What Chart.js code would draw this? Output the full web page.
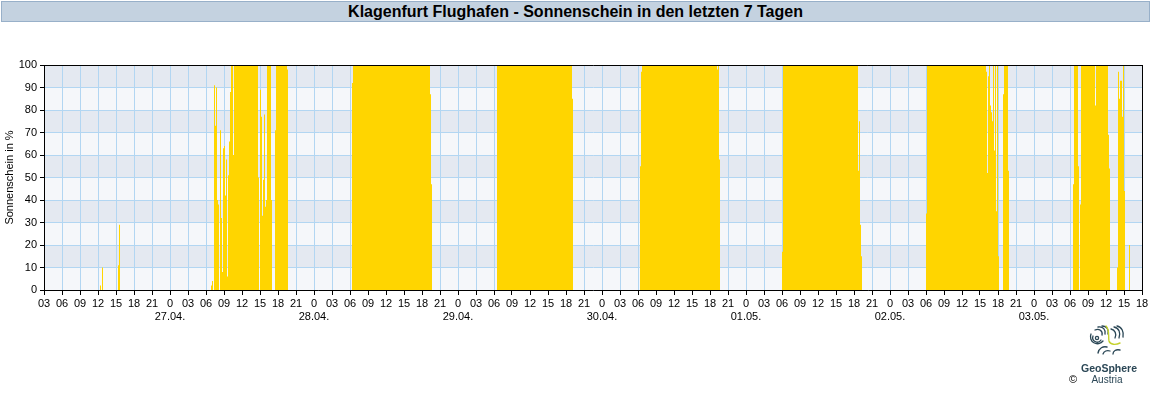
<!DOCTYPE html>
<html><head><meta charset="utf-8">
<script src="https://cdn.jsdelivr.net/npm/chart.js@4/dist/chart.umd.min.js"></script>
<style>
html,body{margin:0;padding:0;background:#fff;}
#wrap{position:relative;width:1152px;height:400px;overflow:hidden;font-family:"Liberation Sans",Arial,sans-serif;}
#title{position:absolute;left:1px;top:1px;width:1147px;height:19px;background:#c4d2e0;border:1px solid #98b0c9;text-align:center;font-weight:bold;font-size:16px;line-height:19px;color:#000;}
canvas{position:absolute;left:0;top:0;}
.lg{position:absolute;color:#2b4756;font-size:10px;}
</style></head>
<body><div id="wrap">
<canvas id="c" width="1152" height="400"></canvas>
<div id="title">Klagenfurt Flughafen - Sonnenschein in den letzten 7 Tagen</div>
<svg style="position:absolute;left:1089px;top:325px" width="36" height="30" viewBox="0 0 36 30">
 <g fill="none" stroke="#2b4756" stroke-width="1.3" stroke-linecap="round">
  <circle cx="8" cy="13" r="1.6"/>
  <path d="M4 11 a4.5 4.5 0 0 0 8 4"/>
  <path d="M2 9 a7 7 0 0 0 12 7"/>
  <path d="M6 5 C10 3 14 6 13 10"/>
  <path d="M9 2 C14 1 17 5 16 9"/>
  <path d="M13 1 C18 1 20 5 19 9"/>
  <path d="M22 4 C26 5 28 9 26 13"/>
  <path d="M25 2 C30 3 32 8 30 13"/>
  <path d="M28 1 C33 2 35 7 34 12"/>
  <path d="M9 28 C10 23 14 21 18 22"/>
  <path d="M14 29 C15 26 18 25 21 26"/>
  <path d="M24 29 C24 26 27 24 31 25"/>
 </g>
 <path d="M17 1 C21 5 19 11 20 16 C21 20 27 20 31 18" fill="none" stroke="#c5d22c" stroke-width="1.4" stroke-linecap="round"/>
</svg>
<div class="lg" style="left:1081px;top:362px;width:52px;text-align:center;font-weight:bold;font-size:10.5px;">GeoSphere</div>
<div class="lg" style="left:1081px;top:374px;width:52px;text-align:center;">Austria</div>
<div class="lg" style="left:1069px;top:373px;color:#000;font-size:11px;">©</div>
</div>
<script>
// Dates (day index 0..7), x axis in hours since 26.04. 00:00
const dates = ["26.04.","27.04.","28.04.","29.04.","30.04.","01.05.","02.05.","03.05."];
// Run-length sunshine values: [start time, % sunshine held until next entry]
const d0426 = [["12:20",2],["12:30",0],["12:40",10],["12:50",0],["15:20",11],["15:30",29],["15:40",0]];
const d0427 = [["06:50",2],["07:00",4],["07:10",0],["07:20",91],["07:30",73],["07:40",90],["07:50",40],["08:00",38],["08:10",0],["08:20",71],["08:30",32],["08:40",8],["08:50",63],["09:00",64],["09:10",42],["09:20",58],["09:30",6],["09:40",51],["09:50",66],["10:00",88],["10:10",100],["10:30",60],["10:40",100],["14:40",50],["14:50",0],["15:00",89],["15:10",77],["15:20",33],["15:30",49],["15:40",78],["15:50",37],["16:00",40],["16:10",100],["16:50",40],["17:00",0],["17:30",71],["17:40",100],["19:30",98],["19:40",0]];
const d0428 = [["06:20",92],["06:30",100],["19:20",87],["19:30",47],["19:40",0]];
const d0429 = [["06:30",100],["19:00",85],["19:10",0]];
const d0430 = [["06:20",55],["06:30",97],["06:40",100],["19:10",98],["19:20",100],["19:30",58],["19:40",0]];
const d0501 = [["06:00",17],["06:10",100],["18:40",53],["18:50",75],["19:00",29],["19:10",15],["19:20",0]];
const d0502 = [["06:00",34],["06:10",100],["16:00",97],["16:10",52],["16:20",95],["16:30",100],["16:40",82],["16:50",79],["17:00",75],["17:10",100],["17:20",62],["17:30",100],["17:40",35],["17:50",100],["18:00",15],["18:10",0],["18:50",87],["19:00",100],["19:40",53],["19:50",0]];
const d0503 = [["06:30",47],["06:40",100],["07:20",55],["07:30",0],["07:40",38],["07:50",100],["10:10",82],["10:20",100],["12:20",69],["12:30",54],["12:40",0],["13:50",10],["14:00",97],["14:10",85],["14:20",93],["14:40",77],["14:50",100],["15:00",44],["15:10",0],["15:50",20],["16:00",0]];
const days = [d0426,d0427,d0428,d0429,d0430,d0501,d0502,d0503];
const xMin = 3, xMax = 186;
const yTicks = [0,10,20,30,40,50,60,70,80,90,100];

const points = [{x:xMin,y:0}];
days.forEach((arr,i)=>arr.forEach(([t,v])=>{
  const [hh,mm] = t.split(":").map(Number);
  points.push({x:i*24+hh+mm/60,y:v});
}));
points.push({x:xMax,y:0});

const bands = {
  id:'bands',
  beforeDraw(chart){
    const {ctx,chartArea:a,scales:{y}} = chart;
    ctx.save();
    for(let i=0;i<yTicks.length-1;i++){
      const t = y.getPixelForValue(yTicks[i+1]), b = y.getPixelForValue(yTicks[i]);
      ctx.fillStyle = (i%2===0)?'#f5f7fa':'#e4e9f1';
      ctx.fillRect(a.left,t,a.right-a.left,b-t);
    }
    ctx.restore();
  },
  afterDatasetsDraw(chart){
    const {ctx,chartArea:a} = chart;
    ctx.save();
    ctx.strokeStyle='#000';ctx.lineWidth=1;
    ctx.beginPath();
    ctx.moveTo(a.left,Math.round(a.top)+0.5);ctx.lineTo(a.right+0.5,Math.round(a.top)+0.5);
    ctx.moveTo(Math.round(a.right)+0.5,a.top);ctx.lineTo(Math.round(a.right)+0.5,a.bottom);
    ctx.stroke();
    ctx.translate(10,(a.top+a.bottom)/2);
    ctx.rotate(-Math.PI/2);
    ctx.fillStyle='#000';ctx.font='11px "Liberation Sans", Arial';
    ctx.textAlign='center';ctx.textBaseline='middle';
    ctx.fillText('Sonnenschein in %',0,0);
    ctx.restore();
  }
};

Chart.defaults.font.family = '"Liberation Sans", Arial, sans-serif';
Chart.defaults.font.size = 11;
Chart.defaults.color = '#000';

new Chart(document.getElementById('c'),{
  type:'line',
  data:{datasets:[{
    data:points,
    stepped:'before',
    fill:'origin',
    backgroundColor:'#ffd500',
    borderColor:'rgba(0,0,0,0)',
    borderWidth:0,
    pointRadius:0,
    tension:0
  }]},
  options:{
    responsive:false,animation:false,
    layout:{padding:{top:65,right:10,left:0,bottom:0}},
    plugins:{legend:{display:false},tooltip:{enabled:false},title:{display:false}},
    scales:{
      x:{type:'linear',min:xMin,max:xMax,
        afterFit(s){s.height=110;},
        grid:{color:'#b2d6f2',tickColor:'#000',tickLength:5,lineWidth:1},
        border:{color:'#000',width:1},
        ticks:{stepSize:3,autoSkip:false,maxRotation:0,padding:2,
          callback(v){
            const h = v%24;
            if(h===0) return ['0',dates[v/24]];
            return String(h).padStart(2,'0');
          }}
      },
      y:{min:0,max:100,
        afterFit(s){s.width=44;},
        grid:{color:'#b2d6f2',tickColor:'#000',tickLength:4,lineWidth:1},
        border:{color:'#000',width:1},
        ticks:{stepSize:10,padding:3}
      }
    }
  },
  plugins:[bands]
});
</script>
</body></html>
